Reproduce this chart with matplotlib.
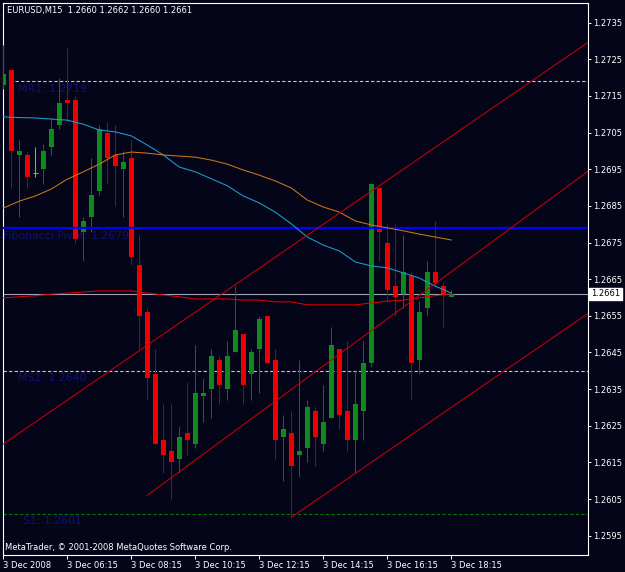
import numpy as np
import matplotlib.pyplot as plt

# EURUSD M15, 3 Dec 2008, bars 04:15 .. 18:15
bar_open = [1.2718, 1.2722, 1.2699, 1.2699, 1.2694, 1.2695, 1.2701, 1.2707, 1.2714, 1.2714,
            1.2678, 1.2682, 1.2689, 1.2705, 1.2699, 1.2695, 1.2698, 1.2669, 1.2656, 1.2639,
            1.2621, 1.2618, 1.2616, 1.2623, 1.2620, 1.2633, 1.2635, 1.2643, 1.2635, 1.2645,
            1.2650, 1.2639, 1.2646, 1.2655, 1.2643, 1.2622, 1.2623, 1.2617, 1.2619, 1.2629,
            1.2620, 1.2627, 1.2646, 1.2629, 1.2621, 1.2629, 1.2642, 1.2690, 1.2675, 1.2663,
            1.2661, 1.2666, 1.2643, 1.2657, 1.2667, 1.2663, 1.2660]
bar_high = [1.2729, 1.2722, 1.2703, 1.2700, 1.2701, 1.2702, 1.2709, 1.2720, 1.2728, 1.2715,
            1.2682, 1.2698, 1.2707, 1.2708, 1.2707, 1.2700, 1.2703, 1.2677, 1.2657, 1.2646,
            1.2631, 1.2631, 1.2625, 1.2637, 1.2647, 1.2638, 1.2646, 1.2644, 1.2648, 1.2663,
            1.2650, 1.2646, 1.2655, 1.2655, 1.2646, 1.2628, 1.2629, 1.2643, 1.2632, 1.2630,
            1.2636, 1.2652, 1.2646, 1.2648, 1.2640, 1.2648, 1.2691, 1.2690, 1.2680, 1.2680,
            1.2677, 1.2667, 1.2659, 1.2670, 1.2681, 1.2664, 1.2662]
bar_low = [1.2717, 1.2690, 1.2682, 1.2690, 1.2693, 1.2691, 1.2699, 1.2706, 1.2708, 1.2675,
           1.2670, 1.2678, 1.2688, 1.2691, 1.2685, 1.2682, 1.2669, 1.2646, 1.2632, 1.2620,
           1.2612, 1.2605, 1.2612, 1.2617, 1.2619, 1.2626, 1.2627, 1.2631, 1.2632, 1.2645,
           1.2631, 1.2632, 1.2634, 1.2642, 1.2616, 1.2610, 1.2600, 1.2611, 1.2615, 1.2614,
           1.2618, 1.2627, 1.2624, 1.2618, 1.2612, 1.2621, 1.2641, 1.2670, 1.2659, 1.2655,
           1.2657, 1.2632, 1.2639, 1.2655, 1.2663, 1.2652, 1.2660]
bar_close = [1.2721, 1.2700, 1.2700, 1.2693, 1.2694, 1.2700, 1.2706, 1.2713, 1.2713, 1.2676,
             1.2681, 1.2688, 1.2706, 1.2698, 1.2696, 1.2697, 1.2671, 1.2655, 1.2638, 1.2620,
             1.2617, 1.2615, 1.2622, 1.2621, 1.2634, 1.2634, 1.2644, 1.2636, 1.2644, 1.2651,
             1.2636, 1.2645, 1.2654, 1.2642, 1.2621, 1.2624, 1.2614, 1.2618, 1.2630, 1.2622,
             1.2626, 1.2647, 1.2628, 1.2621, 1.2631, 1.2642, 1.2691, 1.2678, 1.2662, 1.2660,
             1.2667, 1.2642, 1.2656, 1.2667, 1.2664, 1.2661, 1.2661]

# moving averages, read every second bar
ma_bars = list(range(0, 57, 2))
ma_cyan = [1.27093, 1.27091, 1.27090, 1.27087, 1.27084, 1.27073, 1.27057, 1.27052, 1.27041, 1.27016,
           1.26989, 1.26956, 1.26943, 1.26924, 1.26905, 1.26877, 1.26858, 1.26833, 1.26801, 1.26765,
           1.26743, 1.26727, 1.26697, 1.26686, 1.26681, 1.26667, 1.26653, 1.26631, 1.26612]
ma_orange = [1.26844, 1.26863, 1.26877, 1.26896, 1.26923, 1.26943, 1.26964, 1.26989, 1.26997, 1.26994,
             1.26989, 1.26986, 1.26983, 1.26975, 1.26964, 1.26948, 1.26934, 1.26918, 1.26899, 1.26866,
             1.26847, 1.26833, 1.26809, 1.26798, 1.26790, 1.26782, 1.26773, 1.26765, 1.26757]
ma_red = [1.26599, 1.26602, 1.26605, 1.26609, 1.26612, 1.26615, 1.26618, 1.26618, 1.26618, 1.26612,
          1.26607, 1.26602, 1.26596, 1.26596, 1.26596, 1.26593, 1.26593, 1.26588, 1.26588, 1.26580,
          1.26580, 1.26580, 1.26580, 1.26585, 1.26590, 1.26593, 1.26599, 1.26605, 1.26610]

# trend lines: two anchor points (bar, price) each, extended to the right
trend_bars = [[0, 56], [18, 56], [36, 56]]
trend_prices = [[1.2620, 1.2704], [1.2606, 1.2667], [1.2600, 1.2630]]

# pivot levels
mr1 = 1.2719
fib_pivot = 1.2679
ms1 = 1.2640
s1 = 1.2601
last_price = 1.2661

time_bars = [0, 8, 16, 24, 32, 40, 48, 56]
time_labels = ["3 Dec 2008", "3 Dec 06:15", "3 Dec 08:15", "3 Dec 10:15",
               "3 Dec 12:15", "3 Dec 14:15", "3 Dec 16:15", "3 Dec 18:15"]
price_ticks = [1.2595, 1.2605, 1.2615, 1.2625, 1.2635, 1.2645, 1.2655, 1.2665,
               1.2675, 1.2685, 1.2695, 1.2705, 1.2715, 1.2725, 1.2735]

bg = '#05051a'
fig = plt.figure(figsize=(6.25, 5.72), dpi=100, facecolor=bg)
ax = fig.add_axes([2.5 / 625, 17 / 572, 585.5 / 625, 552.5 / 572], facecolor=bg)

x_left, x_right = -0.1, 73.09
ax.set_xlim(x_left, x_right)
ax.set_ylim(1.258972, 1.274051)

o = np.array(bar_open)
h = np.array(bar_high)
l = np.array(bar_low)
c = np.array(bar_close)
x = np.arange(len(o))
up = c > o
dn = c < o
dj = c == o

# candles
ax.vlines(x[up], l[up], h[up], color='#0b6e16', lw=0.75, zorder=3)
ax.vlines(x[dn], l[dn], h[dn], color='#a80000', lw=0.75, zorder=3)
ax.vlines(x[dj], l[dj], h[dj], color='#22ee22', lw=0.75, zorder=3)
ax.bar(x[up], (c - o)[up], bottom=o[up], width=0.62, color='#0c8a1c', lw=0, zorder=4)
ax.bar(x[dn], (o - c)[dn], bottom=c[dn], width=0.62, color='#ee0000', lw=0, zorder=4)
ax.hlines(o[dj], x[dj] - 0.31, x[dj] + 0.31, color='#22ee22', lw=0.75, zorder=4)

# pivot lines and labels
lab_kw = dict(color='#10107a', fontsize=7.8, va='top', textcoords='offset points', zorder=1)
ax.hlines(mr1, 1.46, x_right, color='#c8c8c8', lw=0.8, linestyles=(0, (3, 2)), zorder=2)
ax.annotate("MR1: 1.2719", xy=(1.84, mr1), xytext=(0, -2), **lab_kw)
ax.axhline(fib_pivot, color='#0000ff', lw=1.6, zorder=5)
ax.annotate("Fibonacci Pivot: 1.2679", xy=(0.0, fib_pivot), xytext=(0, -2.3), **lab_kw)
ax.hlines(ms1, 0, x_right, color='#c8c8c8', lw=0.8, linestyles=(0, (3, 2)), zorder=2)
ax.annotate("MS1: 1.2640", xy=(1.84, ms1), xytext=(0, -1.5), **lab_kw)
ax.hlines(s1, -0.1, x_right, color='#007a00', lw=0.8, linestyles=(0, (3, 2)), zorder=2)
ax.annotate("S1: 1.2601", xy=(2.45, s1), xytext=(0, -1.5), **lab_kw)
ax.axhline(last_price, color='#a0a0b4', lw=0.8, zorder=2)

# moving averages
ax.plot(ma_bars, ma_cyan, color='#1e9ed0', lw=0.75, zorder=5)
ax.plot(ma_bars, ma_orange, color='#c87814', lw=0.75, zorder=5)
ax.plot(ma_bars, ma_red, color='#e00000', lw=0.75, zorder=5)

# channel lines
for tb, tp in zip(trend_bars, trend_prices):
    slope = (tp[1] - tp[0]) / (tb[1] - tb[0])
    ax.plot([tb[0], x_right], [tp[0], tp[0] + slope * (x_right - tb[0])],
            color='#c80000', lw=0.75, zorder=5)

# axes styling
for s in ax.spines.values():
    s.set_color('white')
    s.set_linewidth(0.8)
ax.yaxis.tick_right()
ax.set_yticks(price_ticks, [f"{p:.4f}" for p in price_ticks])
ax.set_xticks(time_bars, time_labels, ha='left')
ax.tick_params(axis='y', colors='white', length=2.2, width=0.7, labelsize=6, pad=1.5)
ax.tick_params(axis='x', colors='white', length=3, width=0.7, labelsize=6, pad=1.5)

ax.annotate(f"{last_price:.4f}", xy=(1, last_price), xycoords=('axes fraction', 'data'),
            xytext=(2.2, 0), textcoords='offset points', va='center', ha='left',
            fontsize=6, color='black', annotation_clip=False, zorder=10,
            bbox=dict(boxstyle='square,pad=0.2', fc='white', ec='white'))

fig.text(7 / 625, 1 - 11 / 572, "EURUSD,M15  1.2660 1.2662 1.2660 1.2661",
         color='white', fontsize=6, va='center', ha='left')
fig.text(5 / 625, 1 - 547 / 572, "MetaTrader, \u00a9 2001-2008 MetaQuotes Software Corp.",
         color='white', fontsize=6, va='center', ha='left')

fig.savefig('out.png', dpi=100, facecolor=bg)
